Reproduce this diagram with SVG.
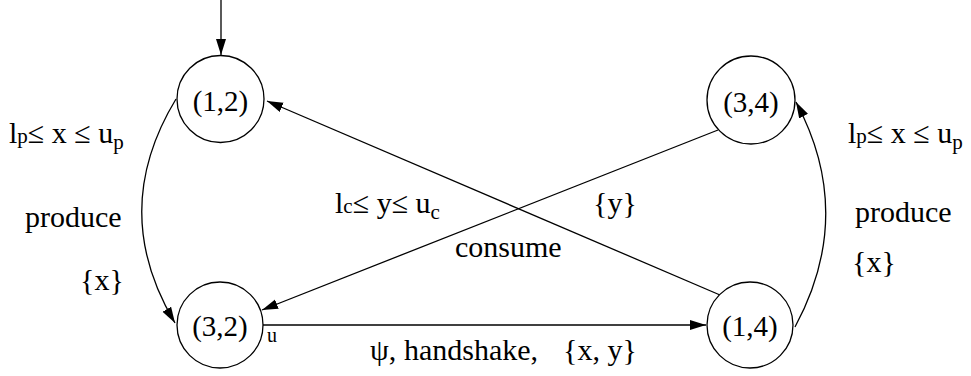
<svg xmlns="http://www.w3.org/2000/svg" width="971" height="376" viewBox="0 0 971 376">
<style>
text{font-family:"Liberation Serif","Times New Roman",serif;font-size:30px;fill:#000}
.n{text-anchor:middle;font-size:29px}
.s{font-size:21px}
circle{fill:#fff;stroke:#000;stroke-width:1.3}
.e{fill:none;stroke:#000;stroke-width:1.3;marker-end:url(#ah)}
</style>
<defs>
<marker id="ah" markerUnits="userSpaceOnUse" markerWidth="17" markerHeight="11" refX="16" refY="5" orient="auto">
<path d="M0,0 L16,5 L0,10 z" fill="#000"/>
</marker>
</defs>
<g id="connectors">
<path class="e" d="M221,0 L221,55"/>
<path class="e" d="M176,99 Q108,211 175,323"/>
<path class="e" d="M795,327 Q856,214 796,102"/>
<path class="e" d="M720,295 L267,101"/>
<path class="e" d="M718,130 L262,310"/>
<path class="e" d="M263,325 L706,325"/>
</g>
<g id="n12"><circle cx="220.5" cy="99" r="43.5"/><text class="n" x="220.5" y="111">(1,2)</text></g>
<g id="n34"><circle cx="751" cy="100" r="44"/><text class="n" x="751" y="112">(3,4)</text></g>
<g id="n32"><circle cx="220" cy="325" r="43"/><text class="n" x="220" y="336">(3,2)</text></g>
<g id="n14"><circle cx="750" cy="325" r="43"/><text class="n" x="750" y="336">(1,4)</text></g>
<g id="labels">
<text x="9" y="143">l<tspan class="s">p</tspan>≤ x ≤ u<tspan class="s" dy="6">p</tspan></text>
<text x="25" y="227">produce</text>
<text x="80" y="290">{x}</text>
<text x="848" y="143">l<tspan class="s">p</tspan>≤ x ≤ u<tspan class="s" dy="6">p</tspan></text>
<text x="855" y="222">produce</text>
<text x="852" y="272">{x}</text>
<text x="335" y="213">l<tspan class="s">c</tspan>≤ y≤ u<tspan class="s" dy="6">c</tspan></text>
<text x="593" y="213">{y}</text>
<text x="455" y="257">consume</text>
<text x="370" y="360">ψ,</text>
<text x="404" y="360">handshake,</text>
<text x="563" y="360">{x, y}</text>
<text x="267" y="342" style="font-size:20px">u</text>
</g>
</svg>
